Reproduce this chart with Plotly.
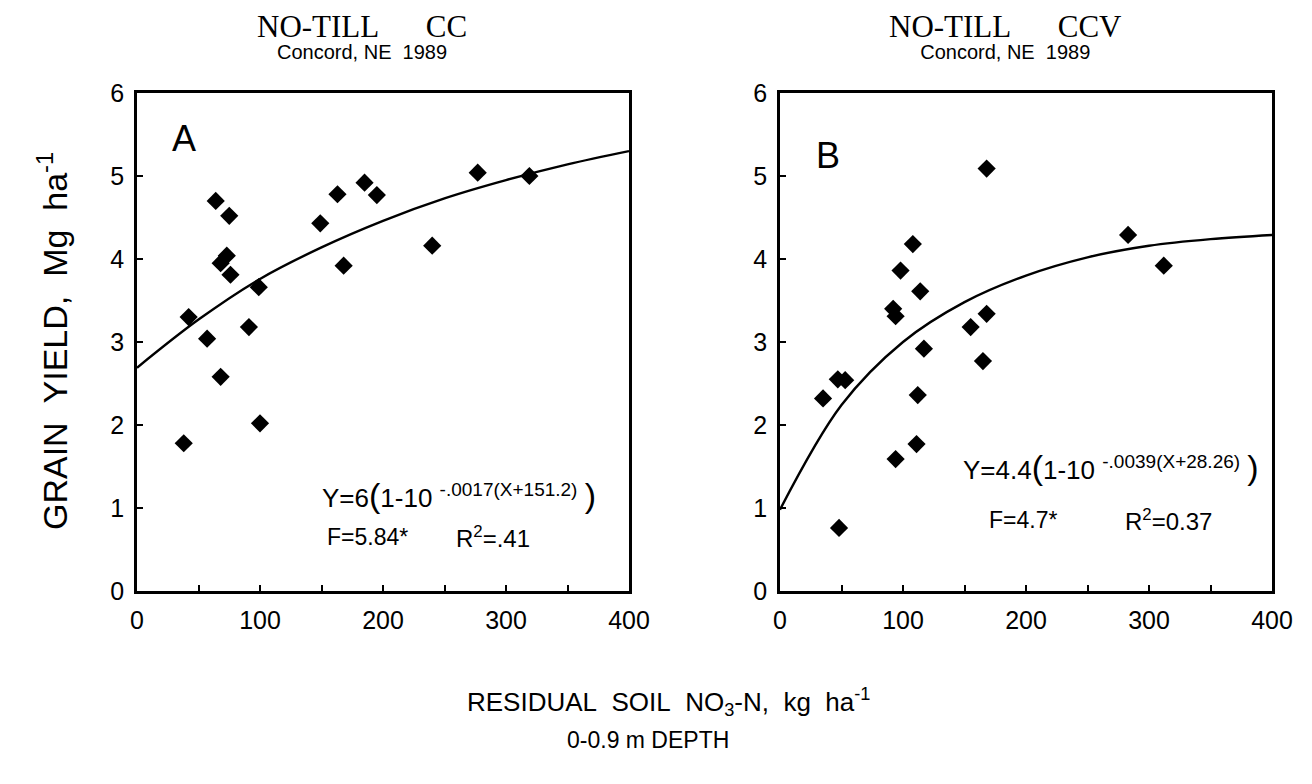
import plotly.graph_objects as go

# panel A: NO-TILL CC
a_x = [38, 42, 57, 64, 75, 73, 68, 76, 68, 91, 99, 100, 149, 163, 168, 185, 195, 240, 277, 319]
a_y = [1.78, 3.30, 3.04, 4.70, 4.52, 4.04, 3.95, 3.81, 2.58, 3.18, 3.66, 2.02, 4.43, 4.78, 3.92, 4.92, 4.77, 4.16, 5.04, 5.00]

# panel B: NO-TILL CCV
b_x = [35, 47, 53, 48, 92, 94, 98, 108, 114, 117, 112, 111, 94, 155, 168, 165, 168, 283, 312]
b_y = [2.32, 2.55, 2.54, 0.76, 3.40, 3.31, 3.86, 4.18, 3.61, 2.92, 2.36, 1.77, 1.59, 3.18, 3.34, 2.77, 5.09, 4.29, 3.92]

# fitted curves
curve_x = [0, 50, 100, 150, 200, 250, 300, 350, 400]
a_fit = [2.69, 3.27, 3.76, 4.14, 4.46, 4.73, 4.95, 5.14, 5.30]
b_fit = [0.98, 2.24, 3.00, 3.48, 3.80, 4.02, 4.16, 4.24, 4.29]

x_ticks = [0, 50, 100, 150, 200, 250, 300, 350, 400]
x_labels = ["0", "", "100", "", "200", "", "300", "", "400"]
y_ticks = [0, 1, 2, 3, 4, 5, 6]

SANS = "Liberation Sans"
SERIF = "Liberation Serif"
NB = "\u00a0"
W, H = 1312, 784
OFF = 8  # page body margin shifts the plot div by this much


def fx(px):
    return (px - OFF) / W


def fy(py):
    return 1 - (py - OFF) / H


fig = go.Figure()

for xs, ys, cy, ax in [(a_x, a_y, a_fit, ""), (b_x, b_y, b_fit, "2")]:
    fig.add_trace(go.Scatter(x=curve_x, y=cy, mode="lines", line=dict(color="black", width=2.4, shape="spline"),
                             xaxis="x" + ax, yaxis="y" + ax, showlegend=False, hoverinfo="skip"))
    fig.add_trace(go.Scatter(x=xs, y=ys, mode="markers", marker=dict(symbol="diamond", size=14, color="black"),
                             xaxis="x" + ax, yaxis="y" + ax, showlegend=False))

axis_style = dict(showline=True, linecolor="black", linewidth=2.5, mirror=True, ticks="inside",
                  ticklen=6, tickwidth=1.5, tickcolor="black", showgrid=False, zeroline=False,
                  automargin=False, ticklabelstandoff=5, tickfont=dict(family=SANS, size=25, color="black"))

ydom = [fy(591), fy(93)]
fig.update_layout(
    width=W, height=H, margin=dict(l=0, r=0, t=0, b=0, pad=0, autoexpand=False),
    paper_bgcolor="white", plot_bgcolor="white",
    xaxis=dict(domain=[fx(137), fx(629)], range=[0, 400], tickvals=x_ticks, ticktext=x_labels,
               anchor="y", **axis_style),
    yaxis=dict(domain=ydom, range=[0, 6], tickvals=y_ticks, anchor="x", **axis_style),
    xaxis2=dict(domain=[fx(780), fx(1272)], range=[0, 400], tickvals=x_ticks, ticktext=x_labels,
                anchor="y2", **axis_style),
    yaxis2=dict(domain=ydom, range=[0, 6], tickvals=y_ticks, anchor="x2", **axis_style),
)


def paper(text, px, py, size, family=SANS, angle=0, xanchor="center", yanchor="middle"):
    fig.add_annotation(text=text, x=fx(px), y=fy(py), xref="paper", yref="paper",
                       showarrow=False, xanchor=xanchor, yanchor=yanchor, textangle=angle,
                       borderpad=0, font=dict(family=family, size=size, color="black"))


def data(text, x, y, ax, size, xanchor="left"):
    fig.add_annotation(text=text, x=x, y=y, xref="x" + ax, yref="y" + ax, showarrow=False,
                       xanchor=xanchor, yanchor="middle", font=dict(family=SANS, size=size, color="black"))


def title(main):
    # serif headline over a small sans subtitle, one block so the lines sit close together
    return ('<span style="font-family:%s;font-size:31px">' % SERIF + main + "</span><br>"
            + '<span style="font-size:20px">Concord, NE' + NB * 2 + "1989</span>")


# titles
paper(title("NO-TILL" + NB * 6 + "CC"), 362, 8, 17, yanchor="top")
paper(title("NO-TILL" + NB * 6 + "CCV"), 1005, 8, 17, yanchor="top")

# axis titles
paper("GRAIN" + NB * 2 + "YIELD," + NB * 2 + "Mg" + NB * 2 + "ha<sup>-1</sup>", 52, 341, 34, angle=-90)
paper("RESIDUAL" + NB * 2 + "SOIL" + NB * 2 + "NO<sub>3</sub>-N," + NB * 2 + "kg" + NB * 2 + "ha<sup>-1</sup>",
      668, 702, 26)
paper("0-0.9" + NB + "m" + NB + "DEPTH", 648, 740, 23)

# panel letters
data("A", 38, 5.45, "", 36, xanchor="center")
data("B", 39, 5.25, "2", 36, xanchor="center")


def eq(a, k, c):
    return ("Y=" + a + '<span style="font-size:34px">(</span>1-10' + NB
            + '<sup><span style="font-size:19px">-' + k + "(X+" + c + ")</span></sup>" + NB
            + '<span style="font-size:34px">)</span>')


# equations
data(eq("6", ".0017", "151.2"), 149, 1.16, "", 26)
data("F=5.84*", 153, 0.65, "", 23)
data("R<sup>2</sup>=.41", 258, 0.65, "", 24)
data(eq("4.4", ".0039", "28.26"), 147, 1.5, "2", 26)
data("F=4.7*", 168, 0.85, "2", 23)
data("R<sup>2</sup>=0.37", 279, 0.85, "2", 24)

fig.write_html("out.html")
